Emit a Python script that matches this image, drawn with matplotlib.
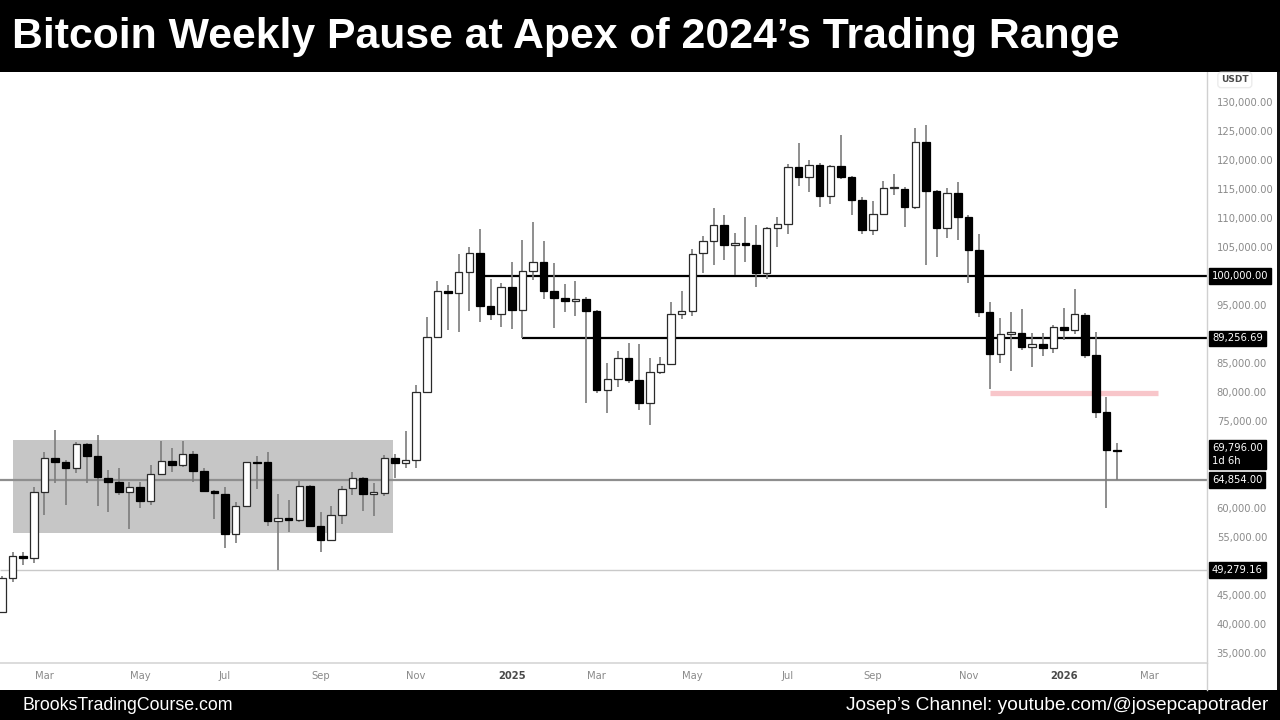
import matplotlib
matplotlib.use("Agg")
import matplotlib.pyplot as plt
import matplotlib.dates as mdates
import matplotlib.transforms as mtransforms
from matplotlib.patches import Rectangle
from matplotlib.lines import Line2D
import pandas as pd
import numpy as np

# ---------------- data (weekly BTC/USDT candles) ----------------
first_week = "2024-02-05"
opens = [42000, 47900, 51730, 51440, 62810, 68570, 67990, 66850, 71000, 69040,
         65240, 64550, 62830, 63690, 61210, 65870, 68110, 67420, 69280, 66390,
         62940, 62420, 55470, 60420, 67890, 67890, 57820, 58230, 58000, 63850,
         56900, 54490, 58800, 63450, 65130, 62420, 62540, 68680, 67710, 68280,
         80060, 89540, 97470, 97020, 100740, 104020, 94880, 93400, 98050, 94140,
         100910, 102360, 97420, 96160, 95740, 96000, 94020, 80350, 82250, 85810,
         82070, 78070, 83400, 84830, 93400, 93970, 103920, 106090, 108800, 105350,
         105520, 105350, 100590, 108220, 108970, 118740, 117020, 119140, 113850, 119020,
         117140, 113110, 107930, 110690, 115120, 114950, 111850, 123160, 114670, 108330,
         114270, 110230, 104480, 93860, 86500, 90000, 90120, 87810, 88280, 87660,
         91270, 90690, 93280, 86380, 76610, 70000]
highs = [48200, 52470, 52470, 63680, 69610, 73450, 68280, 71450, 71180, 72590,
         66560, 66850, 64550, 64550, 67420, 71610, 70300, 71610, 69880, 66850,
         63110, 63690, 61110, 68000, 68970, 69710, 62420, 61380, 64660, 64000,
         59370, 60350, 63850, 66160, 65300, 64260, 69140, 69270, 73330, 81210,
         92880, 99190, 98450, 103800, 105050, 108100, 99430, 98740, 102360, 106210,
         109370, 106090, 102190, 98620, 99190, 96300, 94100, 85070, 87130, 88500,
         88280, 85810, 86090, 95470, 97470, 104610, 106900, 111670, 110520, 107470,
         110230, 108800, 108510, 110230, 119310, 122990, 120000, 119540, 119140, 124310,
         117250, 113570, 112930, 116380, 117590, 115300, 125470, 126030, 114900, 115120,
         116170, 110500, 107240, 95570, 92830, 93860, 94310, 90130, 90240, 91560,
         94430, 97710, 93570, 90400, 79200, 71160]
lows = [41900, 47300, 50180, 50590, 58800, 64260, 60520, 65990, 64260, 60350,
        59370, 62250, 56330, 59960, 60520, 65700, 66280, 67140, 64550, 62830,
        58110, 53170, 53920, 60250, 63280, 56900, 49279, 55920, 57660, 56700,
        52370, 54370, 57250, 62250, 59540, 58630, 62080, 65130, 66850, 66900,
        79800, 89260, 90690, 90400, 94020, 92130, 92420, 91260, 90870, 89257,
        99310, 96000, 91090, 93850, 93110, 78060, 79800, 76440, 80930, 81510,
        76900, 74320, 83100, 84700, 92540, 93110, 100590, 101900, 102760, 100170,
        102480, 98170, 99430, 104950, 107240, 115520, 114550, 111850, 112420, 116690,
        110520, 107240, 107070, 110520, 113970, 108400, 111510, 101900, 103330, 106500,
        106210, 98740, 92880, 80600, 85070, 83620, 87240, 84270, 86210, 86690,
        88970, 90000, 85810, 75480, 59960, 64854]
closes = [47900, 51730, 51440, 62810, 68680, 67990, 66850, 71000, 69040, 65300,
          64550, 62830, 63690, 61210, 65870, 68110, 67420, 69280, 66390, 62940,
          62540, 55470, 60420, 67890, 67700, 57820, 58230, 58000, 63800, 56900,
          54490, 58800, 63280, 65130, 62420, 62600, 68680, 67710, 68280, 80060,
          89540, 97470, 97020, 100740, 104020, 94880, 93400, 98050, 94140, 100910,
          102360, 97420, 96160, 95740, 95800, 93970, 80350, 82250, 85810, 82070,
          78070, 83400, 84830, 93400, 94020, 103800, 106090, 108800, 105350, 105520,
          105400, 100590, 108220, 108970, 118740, 117020, 119140, 113850, 119020, 117140,
          113110, 107930, 110690, 115120, 115300, 111850, 123160, 114670, 108330, 114270,
          110230, 104480, 93860, 86500, 90000, 90100, 87810, 88280, 87660, 91270,
          90690, 93400, 86380, 76610, 70000, 69796]

tick_months = ["2024-03", "2024-05", "2024-07", "2024-09", "2024-11", "2025-01",
               "2025-03", "2025-05", "2025-07", "2025-09", "2025-11", "2026-01", "2026-03"]
tick_labels = ["Mar", "May", "Jul", "Sep", "Nov", "2025",
               "Mar", "May", "Jul", "Sep", "Nov", "2026", "Mar"]
price_ticks = [130000, 125000, 120000, 115000, 110000, 105000, 95000, 85000,
               80000, 75000, 60000, 55000, 45000, 40000, 35000]

# annotation levels
range_box = {"start": "2024-02-12", "end": "2024-10-20", "top": 71730, "bottom": 55650}
resist_level, resist_start = 100000.00, "2024-12-16"
support_level, support_start = 89256.69, "2025-01-13"
pink_level, pink_start, pink_end = 79800, "2025-11-17", "2026-03-08"
current_low = 64854.00
range_low = 49279.16
last_price, countdown = 69796.00, "1d 6h"

title = "Bitcoin Weekly Pause at Apex of 2024\u2019s Trading Range"
footer_left = "BrooksTradingCourse.com"
footer_right = "Josep\u2019s Channel: youtube.com/@josepcapotrader"

# ---------------- figure ----------------
W, H = 1280, 720
fig = plt.figure(figsize=(12.8, 7.2), dpi=100)
fig.patch.set_facecolor("white")

def fx(px):
    return px / W

def fy(py):
    return 1 - py / H

ax_left, ax_right, ax_top, ax_bottom = 0, 1207, 72, 663
ax = fig.add_axes([fx(ax_left), fy(ax_bottom), fx(ax_right - ax_left), (ax_bottom - ax_top) / H])
ax.set_facecolor("white")

weeks = pd.date_range(first_week, periods=len(opens), freq="7D")
xd = mdates.date2num(weeks.to_pydatetime())
o = np.array(opens, float); h = np.array(highs, float)
l = np.array(lows, float); c = np.array(closes, float)

px_per_week = 10.62
d0 = xd[0]
ax.set_xlim(d0 - 2 / px_per_week * 7, d0 + (ax_right - 2) / px_per_week * 7)
ax.set_ylim(33284, 135172)

# range box
bx0 = mdates.date2num(pd.Timestamp(range_box["start"]).to_pydatetime())
bx1 = mdates.date2num(pd.Timestamp(range_box["end"]).to_pydatetime())
ax.add_patch(Rectangle((bx0, range_box["bottom"]), bx1 - bx0,
                       range_box["top"] - range_box["bottom"],
                       facecolor="#c6c6c6", edgecolor="none", zorder=1))

# horizontal levels
xmin, xmax = ax.get_xlim()
ax.hlines(range_low, xmin, xmax, colors="#c9c9c9", linewidth=1.0, zorder=2)
ax.hlines(current_low, xmin, xmax, colors="#8e8e8e", linewidth=1.6, zorder=2)
rs = mdates.date2num(pd.Timestamp(resist_start).to_pydatetime())
ss = mdates.date2num(pd.Timestamp(support_start).to_pydatetime())
ax.hlines(resist_level, rs, xmax, colors="black", linewidth=1.6, zorder=2)
ax.hlines(support_level, ss, xmax, colors="black", linewidth=1.6, zorder=2)
ps = mdates.date2num(pd.Timestamp(pink_start).to_pydatetime())
pe = mdates.date2num(pd.Timestamp(pink_end).to_pydatetime())
ax.hlines(pink_level, ps, pe, colors="#f8c6ca", linewidth=3.8, zorder=2)

# candles
ax.vlines(xd, l, h, colors="#7c7c7c", linewidth=1.2, zorder=3)
up = c >= o
bottoms = np.minimum(o, c)
heights = np.maximum(np.abs(c - o), 280)
body_w = 7.5 / px_per_week * 7
ax.bar(xd[up], heights[up], bottom=bottoms[up], width=body_w, facecolor="white",
       edgecolor="#2a2a2a", linewidth=0.9, zorder=4)
ax.bar(xd[~up], heights[~up], bottom=bottoms[~up], width=body_w, facecolor="black",
       edgecolor="black", linewidth=0.9, zorder=4)

# x ticks: first weekly bar of each labelled month
tick_pos = []
for m in tick_months:
    ts = pd.Timestamp(m + "-01")
    ts = ts + pd.Timedelta(days=(7 - ts.weekday()) % 7)
    tick_pos.append(mdates.date2num(ts.to_pydatetime()))
ax.set_xticks(tick_pos)
ax.set_xticklabels(tick_labels)
for t, lab in zip(ax.get_xticklabels(), tick_labels):
    t.set_family("DejaVu Sans")
    if lab.isdigit():
        t.set_color("#4a4a4a")
        t.set_fontweight("bold")
    else:
        t.set_color("#8a8a8a")
ax.tick_params(axis="x", length=0, pad=6, labelsize=7.2)

# y ticks on the right
ax.yaxis.tick_right()
ax.set_yticks(price_ticks)
ax.set_yticklabels([f"{v:,.2f}" for v in price_ticks])
ax.tick_params(axis="y", length=0, pad=7, labelsize=7.2, labelcolor="#8a8a8a")

for s in ["left", "top"]:
    ax.spines[s].set_visible(False)
ax.spines["bottom"].set_color("#d6d6d6")
ax.spines["right"].set_color("#d0d0d0")
ax.spines["bottom"].set_linewidth(1.2)
ax.spines["right"].set_linewidth(1.0)

# price label boxes
trans = mtransforms.blended_transform_factory(ax.transAxes, ax.transData)
xl = (1212 - ax_left) / (ax_right - ax_left)
box = dict(boxstyle="square,pad=0.28", facecolor="black", edgecolor="black")
for val, txt in [(resist_level, "100,000.00"), (support_level, "89,256.69"),
                 (current_low, "64,854.00"), (range_low, "49,279.16")]:
    ax.text(xl, val, txt, transform=trans, ha="left", va="center", fontsize=7.2,
            color="white", bbox=box, clip_on=False, zorder=10, family="DejaVu Sans")
t_off = mtransforms.offset_copy(trans, fig=fig, x=0, y=6, units="points")
ax.text(xl, last_price, f"{last_price:,.2f}\n{countdown}", transform=t_off, ha="left",
        va="top", fontsize=7.2, color="white", bbox=box, clip_on=False, zorder=10,
        family="DejaVu Sans", linespacing=1.45)

# USDT label
fig.text(fx(1221), fy(80), "USDT", fontsize=6.5, color="#4a4a4a", fontweight="bold",
         ha="left", va="center", family="DejaVu Sans",
         bbox=dict(boxstyle="round,pad=0.35", facecolor="white", edgecolor="#ececec"))

# extend right axis line through the date area
fig.add_artist(Line2D([fx(ax_right), fx(ax_right)], [fy(690), fy(ax_bottom)],
                      color="#d0d0d0", linewidth=1.0))
# right dark edge
fig.add_artist(Rectangle((fx(1277), fy(690)), fx(3), (690 - 72) / H,
                         facecolor="#111111", edgecolor="none"))

# title bar and footer
fig.add_artist(Rectangle((0, fy(72)), 1, 72 / H, facecolor="black", edgecolor="none"))
fig.add_artist(Rectangle((0, 0), 1, 30 / H, facecolor="black", edgecolor="none"))
fig.text(fx(12), fy(37), title, color="white", fontsize=30.8, fontweight="bold",
         family=["Liberation Sans", "DejaVu Sans"], ha="left", va="center")
fig.text(fx(22), fy(705), footer_left, color="white", fontsize=12.8,
         family=["Liberation Sans", "DejaVu Sans"], ha="left", va="center")
fig.text(fx(1268), fy(705), footer_right, color="white", fontsize=13.8,
         family=["Liberation Sans", "DejaVu Sans"], ha="right", va="center")

fig.savefig("out.png", dpi=100, facecolor="white")
